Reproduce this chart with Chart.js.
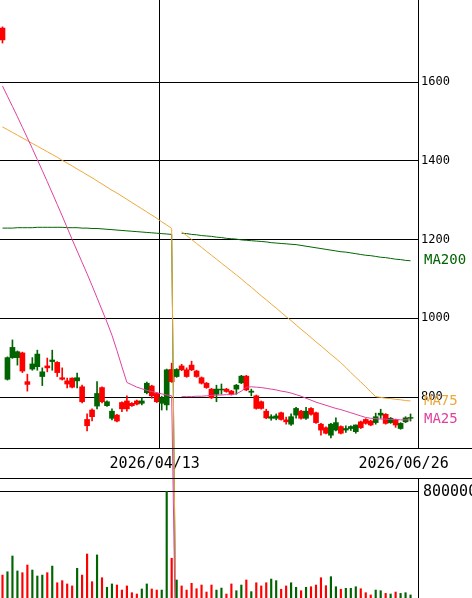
<!DOCTYPE html>
<html>
<head>
<meta charset="utf-8">
<script src="https://cdn.jsdelivr.net/npm/chart.js@4.4.1/dist/chart.umd.min.js"></script>
<style>
  body { margin: 0; background: #fff; }
  #wrap { position: relative; width: 472px; height: 598px; overflow: hidden; }
  #wrap canvas { position: absolute; left: 0; }
  #priceChart { top: 0; }
  #volChart { top: 478px; }
</style>
</head>
<body>
<div id="wrap">
  <canvas id="priceChart" width="472" height="598"></canvas>
  <canvas id="volChart" width="472" height="120"></canvas>
</div>
<script>
// --- trading days ---
const dates = [
  '2026/02/25', '2026/02/26', '2026/02/27', '2026/03/02', '2026/03/03', '2026/03/04', '2026/03/05', '2026/03/06', '2026/03/09', '2026/03/10',
  '2026/03/11', '2026/03/12', '2026/03/13', '2026/03/16', '2026/03/17', '2026/03/18', '2026/03/19', '2026/03/23', '2026/03/24', '2026/03/25',
  '2026/03/26', '2026/03/27', '2026/03/30', '2026/03/31', '2026/04/01', '2026/04/02', '2026/04/03', '2026/04/06', '2026/04/07', '2026/04/08',
  '2026/04/09', '2026/04/10', '2026/04/13', '2026/04/14', '2026/04/15', '2026/04/16', '2026/04/17', '2026/04/20', '2026/04/21', '2026/04/22',
  '2026/04/23', '2026/04/24', '2026/04/27', '2026/04/28', '2026/04/30', '2026/05/01', '2026/05/07', '2026/05/08', '2026/05/11', '2026/05/12',
  '2026/05/13', '2026/05/14', '2026/05/15', '2026/05/18', '2026/05/19', '2026/05/20', '2026/05/21', '2026/05/22', '2026/05/25', '2026/05/26',
  '2026/05/27', '2026/05/28', '2026/05/29', '2026/06/01', '2026/06/02', '2026/06/03', '2026/06/04', '2026/06/05', '2026/06/08', '2026/06/09',
  '2026/06/10', '2026/06/11', '2026/06/12', '2026/06/15', '2026/06/16', '2026/06/17', '2026/06/18', '2026/06/19', '2026/06/22', '2026/06/23',
  '2026/06/24', '2026/06/25', '2026/06/26'
];
const dateTicks = ['2026/04/13', '2026/06/26'];
const gridDate = '2026/04/13';

// --- OHLC ---
const opens = [
  1707, 900, 926, 915, 866, 832, 884, 909, 864, 874,
  894, 862, 845, 833, 825, 849, 788, 727, 750, 809,
  788, 788, 764, 739, 770, 770, 778, 782, 790, 835,
  803, 788, 798, 869, 839, 870, 869, 852, 869, 852,
  835, 824, 798, 820, 820, 814, 807, 830, 853, 818,
  815, 771, 771, 747, 750, 752, 743, 737, 750, 771,
  746, 764, 756, 735, 716, 708, 731, 735, 708, 720,
  725, 729, 722, 733, 729, 750, 759, 733, 746, 729,
  733, 747, 748
];
const highs = [
  1740, 902, 945, 917, 914, 858, 900, 919, 874, 899,
  919, 890, 874, 848, 849, 861, 830, 757, 770, 839,
  826, 790, 770, 756, 788, 803, 786, 792, 798, 838,
  830, 811, 802, 871, 886, 872, 883, 874, 891, 868,
  851, 837, 822, 830, 833, 822, 817, 832, 855, 855,
  820, 805, 790, 769, 755, 757, 762, 749, 757, 774,
  766, 774, 773, 762, 733, 724, 733, 747, 727, 727,
  727, 729, 739, 745, 741, 759, 769, 758, 748, 744,
  735, 750, 757
];
const lows = [
  1699, 843, 898, 881, 862, 815, 868, 868, 829, 864,
  868, 852, 843, 823, 823, 823, 785, 714, 739, 770,
  785, 776, 742, 737, 763, 764, 776, 780, 780, 808,
  797, 786, 767, 767, 837, 850, 867, 850, 867, 850,
  833, 822, 796, 788, 807, 812, 805, 807, 834, 816,
  803, 769, 769, 745, 741, 742, 741, 731, 728, 746,
  744, 743, 754, 733, 703, 706, 696, 714, 706, 710,
  715, 708, 720, 731, 727, 731, 746, 731, 733, 723,
  718, 735, 739
];
const closes = [
  1737, 845, 900, 900, 912, 839, 871, 877, 852, 879,
  890, 888, 849, 841, 848, 841, 826, 743, 767, 777,
  824, 778, 746, 754, 786, 790, 784, 790, 784, 811,
  828, 809, 784, 780, 870, 852, 879, 869, 881, 866,
  849, 835, 820, 807, 818, 820, 815, 820, 836, 853,
  812, 803, 788, 764, 746, 746, 760, 742, 731, 754,
  764, 746, 771, 760, 731, 722, 703, 716, 725, 716,
  720, 712, 737, 743, 739, 735, 754, 756, 735, 742,
  720, 737, 746
];
const volumes = [
  173000, 198000, 317000, 204000, 191000, 249000, 211000, 166000, 173000, 191000,
  241000, 115000, 131000, 106000, 91000, 224000, 173000, 332000, 123000, 325000,
  153000, 81000, 106000, 98000, 60000, 91000, 40000, 30000, 68000, 106000,
  68000, 60000, 60000, 805000, 300000, 136000, 91000, 60000, 111000, 70000,
  98000, 45000, 98000, 60000, 75000, 30000, 106000, 55000, 98000, 136000,
  48000, 115000, 91000, 115000, 143000, 131000, 66000, 91000, 115000, 81000,
  55000, 81000, 85000, 98000, 153000, 93000, 161000, 85000, 66000, 73000,
  73000, 85000, 70000, 40000, 23000, 60000, 55000, 35000, 30000, 45000,
  35000, 40000, 23000
];

// --- moving averages (0 = broken data point in the source) ---
const ma25 = [
  1590, 1564, 1538, 1512, 1485, 1458, 1431, 1403, 1375, 1347,
  1318, 1289, 1260, 1230, 1200, 1171, 1142, 1113, 1083, 1052,
  1021, 990, 957, 918, 877, 837, 831, 825, 821, 817,
  814, 811, 808, 805, 803, 0, 801, 801, 801, 802,
  802, 803, 804, 805, 805, 806, 806, 808, 815, 825,
  826, 825, 824, 822, 820, 818, 815, 813, 810, 806,
  802, 797, 792, 787, 783, 779, 775, 771, 768, 764,
  760, 756, 752, 748, 746, 745, 744, 744, 743, 743,
  742, 742, 742
];
const ma75 = [
  1486, 1479, 1472, 1465, 1458, 1451, 1444, 1437, 1430, 1423,
  1416, 1409, 1401, 1394, 1387, 1379, 1372, 1364, 1357, 1349,
  1341, 1333, 1325, 1318, 1310, 1302, 1294, 1286, 1278, 1270,
  1262, 1254, 1245, 1237, 1228, 0, 1220, 1210, 1200, 1190,
  1180, 1170, 1160, 1150, 1140, 1130, 1120, 1110, 1100, 1089,
  1079, 1068, 1057, 1047, 1036, 1026, 1015, 1004, 994, 983,
  972, 962, 951, 940, 930, 919, 908, 898, 887, 875,
  862, 850, 838, 826, 813, 801, 799, 797, 796, 794,
  793, 791, 790
];
const ma200 = [
  1229, 1229, 1229, 1230, 1230, 1230, 1230, 1231, 1231, 1231,
  1231, 1231, 1231, 1230, 1230, 1230, 1229, 1229, 1228, 1228,
  1227, 1226, 1225, 1224, 1223, 1222, 1221, 1220, 1219, 1218,
  1217, 1216, 1215, 1214, 1213, 0, 1216, 1215, 1213, 1212,
  1210, 1209, 1208, 1206, 1205, 1203, 1202, 1201, 1199, 1198,
  1197, 1196, 1195, 1194, 1192, 1191, 1190, 1189, 1188, 1187,
  1185, 1183, 1181, 1179, 1177, 1175, 1173, 1171, 1169, 1168,
  1166, 1164, 1162, 1160, 1159, 1157, 1155, 1154, 1152, 1150,
  1149, 1147, 1146
];

const priceTicks = [800, 1000, 1200, 1400, 1600];
const volumeTicks = [800000];

const UP = '#ff0000';
const DOWN = '#006400';
const FONT = '"DejaVu Sans Mono", monospace';

// one empty slot after the last day
const labels = dates.concat(['']);
const candleColors = opens.map((o, i) => closes[i] >= o ? UP : DOWN);

function maDataset(label, data, color) {
  return {
    type: 'line',
    label: label,
    data: data,
    borderColor: color,
    borderWidth: 1,
    pointRadius: 0,
    tension: 0,
    clip: false,
    order: 0,
    segment: {
      // the source chart leaves a gap after the broken point
      borderColor: ctx => ctx.p0.parsed.y <= 0 ? 'rgba(0,0,0,0)' : undefined
    }
  };
}

const noPad = scale => { scale.paddingTop = 0; scale.paddingBottom = 0; scale.paddingLeft = 0; scale.paddingRight = 0; };
const plainNumber = v => String(v);

// lines of the date band, across the whole width
const bandLines = {
  id: 'bandLines',
  afterDraw(chart) {
    const ctx = chart.ctx;
    const y = Math.round(chart.chartArea.bottom);
    ctx.save();
    ctx.strokeStyle = '#000';
    ctx.lineWidth = 1;
    ctx.beginPath();
    ctx.moveTo(0, y + 0.5); ctx.lineTo(chart.width, y + 0.5);
    ctx.moveTo(0, y + 30.5); ctx.lineTo(chart.width, y + 30.5);
    ctx.stroke();
    ctx.restore();
  }
};

// MA names at the last value, right of the plot
const maLabels = {
  id: 'maLabels',
  afterDraw(chart) {
    const ctx = chart.ctx;
    const yScale = chart.scales.y;
    ctx.save();
    ctx.font = '14px ' + FONT;
    ctx.textAlign = 'left';
    ctx.textBaseline = 'middle';
    chart.data.datasets.forEach(ds => {
      if (ds.type !== 'line') return;
      const last = ds.data[ds.data.length - 1];
      ctx.fillStyle = ds.borderColor;
      ctx.fillText(ds.label, chart.chartArea.right + 6, yScale.getPixelForValue(last));
    });
    ctx.restore();
  }
};

new Chart(document.getElementById('priceChart'), {
  type: 'bar',
  data: {
    labels: labels,
    datasets: [
      maDataset('MA25', ma25, '#e0409f'),
      maDataset('MA75', ma75, '#eda83a'),
      maDataset('MA200', ma200, '#006400'),
      {
        label: 'body',
        data: opens.map((o, i) => [o, closes[i]]),
        backgroundColor: candleColors,
        barThickness: 5,
        grouped: false,
        order: 1
      },
      {
        label: 'wick',
        data: lows.map((l, i) => [l, highs[i]]),
        backgroundColor: candleColors,
        barThickness: 1,
        grouped: false,
        order: 2
      }
    ]
  },
  options: {
    responsive: false,
    animation: false,
    devicePixelRatio: 1,
    layout: { padding: { left: 0, right: 0, top: 0, bottom: 120 } },
    plugins: { legend: { display: false }, tooltip: { enabled: false } },
    scales: {
      x: {
        grid: {
          color: ctx => labels[ctx.index] === gridDate ? '#000' : 'rgba(0,0,0,0)',
          drawTicks: false
        },
        border: { display: false },
        ticks: {
          autoSkip: false,
          maxRotation: 0,
          minRotation: 0,
          labelOffset: -7,
          padding: 7,
          color: '#000',
          font: { family: FONT, size: 15 },
          callback: function (value) {
            const l = this.getLabelForValue(value);
            return dateTicks.includes(l) ? l : '';
          }
        },
        afterFit: scale => { scale.height = 30; noPad(scale); }
      },
      y: {
        position: 'right',
        min: 670.5,
        max: 1808.3,
        afterBuildTicks: scale => { scale.ticks = priceTicks.map(v => ({ value: v })); },
        grid: { color: '#000', drawTicks: false },
        border: { display: true, color: '#000' },
        ticks: { padding: 3, color: '#000', font: { family: FONT, size: 12 }, callback: plainNumber },
        afterFit: scale => { scale.width = 54; noPad(scale); }
      }
    }
  },
  plugins: [bandLines, maLabels]
});

new Chart(document.getElementById('volChart'), {
  type: 'bar',
  data: {
    labels: labels,
    datasets: [{
      label: 'volume',
      data: volumes,
      backgroundColor: candleColors,
      barThickness: 1.5
    }]
  },
  options: {
    responsive: false,
    animation: false,
    devicePixelRatio: 1,
    layout: { padding: 0 },
    plugins: { legend: { display: false }, tooltip: { enabled: false } },
    scales: {
      x: { display: false },
      y: {
        position: 'right',
        min: 0,
        max: 905660,
        afterBuildTicks: scale => { scale.ticks = volumeTicks.map(v => ({ value: v })); },
        grid: { color: '#000', drawTicks: false },
        border: { display: true, color: '#000' },
        ticks: { padding: 5, color: '#000', font: { family: FONT, size: 15 }, callback: plainNumber },
        afterFit: scale => { scale.width = 54; noPad(scale); }
      }
    }
  }
});
</script>
</body>
</html>
